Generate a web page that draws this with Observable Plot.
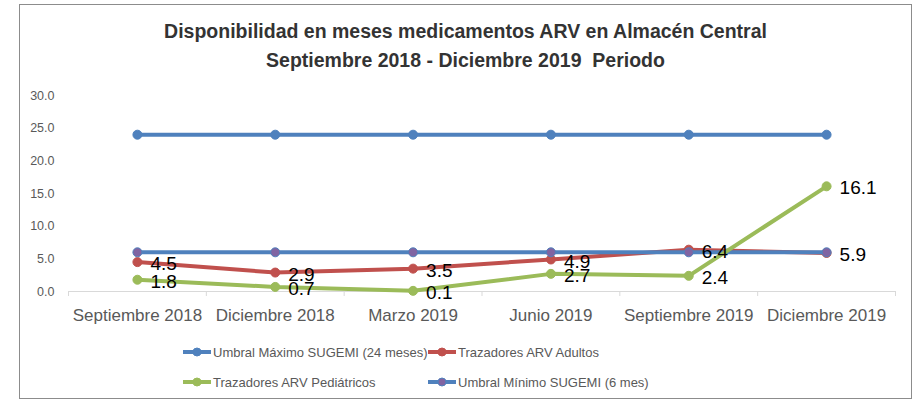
<!DOCTYPE html>
<html>
<head>
<meta charset="utf-8">
<script src="https://cdn.jsdelivr.net/npm/d3@7"></script>
<script src="https://cdn.jsdelivr.net/npm/@observablehq/plot@0.6"></script>
<style>
  body { margin: 0; background: #fff; font-family: "Liberation Sans", Arial, sans-serif; }
  #wrap { position: relative; width: 918px; height: 403px; overflow: hidden; background: #fff; }
  #frame { position: absolute; left: 19px; top: 4px; width: 891px; height: 393px; border: 1px solid #8c8c8c; }
  #title { position: absolute; left: 19px; width: 893px; top: 17px; text-align: center; font-weight: bold; font-size: 19.5px; line-height: 29px; color: #333; white-space: pre; }
  #chart { position: absolute; left: 0; top: 85px; }
  #legend { position: absolute; left: 0; top: 0; }
</style>
</head>
<body>
<div id="wrap">
  <div id="frame"></div>
  <div id="title"></div>
  <div id="chart"></div>
  <svg id="legend" width="918" height="403"></svg>
</div>
<script>
const titleLines = ["Disponibilidad en meses medicamentos ARV en Almacén Central", "Septiembre 2018 - Diciembre 2019  Periodo"];
const categories = ["Septiembre 2018", "Diciembre 2018", "Marzo 2019", "Junio 2019", "Septiembre 2019", "Diciembre 2019"];
const umbralMaximo = [24, 24, 24, 24, 24, 24];
const adultos = [4.5, 2.9, 3.5, 4.9, 6.4, 5.9];
const pediatricos = [1.8, 0.7, 0.1, 2.7, 2.4, 16.1];
const umbralMinimo = [6, 6, 6, 6, 6, 6];
const yTicks = [0, 5, 10, 15, 20, 25, 30];
const seriesNames = ["Umbral Máximo SUGEMI (24 meses)", "Trazadores ARV Adultos", "Trazadores ARV Pediátricos", "Umbral Mínimo SUGEMI (6 mes)"];

const blue = "#4F81BD", red = "#C0504D", green = "#9BBB59", purple = "#8064A2";
const textGray = "#595959";

document.getElementById("title").textContent = titleLines.join("\n");

const rows = (vals) => vals.map((v, i) => ({i, v}));
const dMax = rows(umbralMaximo), dAd = rows(adultos), dPed = rows(pediatricos), dMin = rows(umbralMinimo);
const boundaries = d3.range(categories.length + 1).map(k => k - 0.5);
const centers = d3.range(categories.length);

const lw = 4, r = 4.5;
const fmt = d3.format(".1f");

const plot = Plot.plot({
  width: 918,
  height: 245,
  marginTop: 10,
  marginBottom: 39,
  marginLeft: 68,
  marginRight: 23,
  style: {fontFamily: '"Liberation Sans", Arial, sans-serif', background: "transparent"},
  x: {type: "linear", domain: [-0.5, categories.length - 0.5]},
  y: {domain: [0, 30]},
  marks: [
    Plot.axisY(yTicks, {tickSize: 0, tickPadding: 14, tickFormat: fmt, fontSize: 12.5, fill: textGray, label: null}),
    Plot.ruleY([0], {stroke: "#D9D9D9", strokeWidth: 1}),
    Plot.axisX(boundaries, {tickSize: 5, tickFormat: () => "", stroke: "#D9D9D9", label: null}),
    Plot.axisX(centers, {tickSize: 0, tickPadding: 17, tickFormat: i => categories[i], fontSize: 17, fill: textGray, label: null}),
    Plot.line(dMax, {x: "i", y: "v", stroke: blue, strokeWidth: lw}),
    Plot.dot(dMax, {x: "i", y: "v", r, fill: blue, stroke: blue, strokeWidth: 1}),
    Plot.line(dAd, {x: "i", y: "v", stroke: red, strokeWidth: lw}),
    Plot.dot(dAd, {x: "i", y: "v", r, fill: red, stroke: red, strokeWidth: 1}),
    Plot.line(dMin, {x: "i", y: "v", stroke: blue, strokeWidth: lw}),
    Plot.dot(dMin, {x: "i", y: "v", r, fill: purple, stroke: blue, strokeWidth: 1}),
    Plot.line(dPed, {x: "i", y: "v", stroke: green, strokeWidth: lw}),
    Plot.dot(dPed, {x: "i", y: "v", r, fill: green, stroke: green, strokeWidth: 1}),
    Plot.text(dAd, {x: "i", y: "v", text: d => fmt(d.v), textAnchor: "start", dx: 13, dy: 2, fontSize: 19, fill: "#000"}),
    Plot.text(dPed, {x: "i", y: "v", text: d => fmt(d.v), textAnchor: "start", dx: 13, dy: 2, fontSize: 19, fill: "#000"})
  ]
});
document.getElementById("chart").appendChild(plot);

// Legend
const legendItems = [
  {name: seriesNames[0], stroke: blue, fill: blue, x: 183, y: 352},
  {name: seriesNames[1], stroke: red, fill: red, x: 428, y: 352},
  {name: seriesNames[2], stroke: green, fill: green, x: 183, y: 382},
  {name: seriesNames[3], stroke: blue, fill: purple, x: 428, y: 382}
];
const lg = d3.select("#legend");
for (const it of legendItems) {
  const g = lg.append("g").attr("transform", `translate(${it.x},${it.y})`);
  g.append("line").attr("x1", 0).attr("x2", 28).attr("y1", 0).attr("y2", 0).attr("stroke", it.stroke).attr("stroke-width", 4);
  g.append("circle").attr("cx", 14).attr("cy", 0).attr("r", 4).attr("fill", it.fill).attr("stroke", it.stroke);
  g.append("text").attr("x", 30).attr("y", 0).attr("dy", "0.35em").attr("font-size", 13).attr("fill", textGray)
    .attr("font-family", '"Liberation Sans", Arial, sans-serif').text(it.name);
}
</script>
</body>
</html>
